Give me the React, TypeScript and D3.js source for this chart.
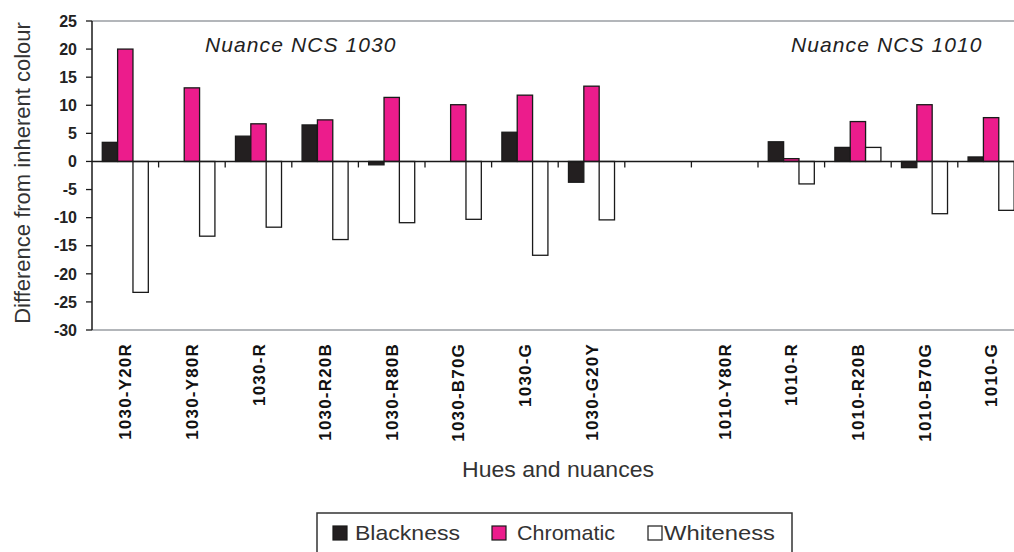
import React from "react";
import * as d3 from "d3";

const categories = [
  "1030-Y20R", "1030-Y80R", "1030-R", "1030-R20B", "1030-R80B", "1030-B70G", "1030-G", "1030-G20Y",
  "", "1010-Y80R", "1010-R", "1010-R20B", "1010-B70G", "1010-G",
];
const seriesNames = ["Blackness", "Chromatic", "Whiteness"];
const blackness = [3.4, 0, 4.5, 6.5, -0.6, 0, 5.2, -3.7, null, 0, 3.5, 2.5, -1.1, 0.8];
const chromatic = [20, 13.1, 6.7, 7.4, 11.4, 10.1, 11.8, 13.4, null, 0, 0.5, 7.1, 10.1, 7.8];
const whiteness = [-23.3, -13.3, -11.7, -13.9, -10.9, -10.3, -16.7, -10.4, null, 0, -4.0, 2.5, -9.3, -8.7];
const yTicks = [25, 20, 15, 10, 5, 0, -5, -10, -15, -20, -25, -30];
const groupTitles = ["Nuance NCS 1030", "Nuance NCS 1010"];

const seriesValues = [blackness, chromatic, whiteness];
const seriesFill = ["#231f20", "#ec1c8c", "#ffffff"];

const FONT = "'Liberation Sans', Arial, sans-serif";

export default function App() {
  const W = 1014, H = 552;
  const left = 92, top = 21, bottom = 330;
  const catW = 66.6;
  const x0 = d3.scaleBand<string>().domain(categories.map((c, i) => c + "#" + i)).range([left, left + catW * categories.length]).paddingInner(0).paddingOuter(0);
  const x1 = d3.scaleBand<string>().domain(seriesNames).range([0, x0.bandwidth()]).paddingInner(0).paddingOuter(0.67);
  const y = d3.scaleLinear().domain([-30, 25]).range([bottom, top]);
  const right = left + catW * categories.length;
  const keys = x0.domain();

  return (
    <svg width={W} height={H} style={{ position: "absolute", left: 0, top: 0, background: "#fff" }} fontFamily={FONT}>
      {/* plot border */}
      <line x1={left} x2={right} y1={y(25)} y2={y(25)} stroke="#9a9ea3" strokeWidth={1.5} />
      <line x1={left} x2={right} y1={y(-30)} y2={y(-30)} stroke="#9a9ea3" strokeWidth={1.5} />

      {/* bars */}
      {seriesValues.map((vals, si) =>
        vals.map((v, ci) => {
          if (v === null || v === 0) return null;
          const bx = (x0(keys[ci]) as number) + (x1(seriesNames[si]) as number);
          const y0 = y(0), yv = y(v);
          return (
            <rect key={si + "-" + ci} x={bx} y={Math.min(y0, yv)} width={x1.bandwidth()} height={Math.abs(yv - y0)}
              fill={seriesFill[si]} stroke="#1a1a1a" strokeWidth={1.3} />
          );
        })
      )}

      {/* y axis */}
      <line x1={left} x2={left} y1={y(25)} y2={y(-30)} stroke="#1a1a1a" strokeWidth={1.5} />
      {yTicks.map((t) => (
        <g key={t}>
          <line x1={left - 6} x2={left} y1={y(t)} y2={y(t)} stroke="#1a1a1a" strokeWidth={1.3} />
          <text x={77} y={y(t)} dy="0.36em" textAnchor="end" fontWeight="bold" fontSize={16} fill="#222">{t}</text>
        </g>
      ))}

      {/* zero axis */}
      <line x1={left} x2={right} y1={y(0)} y2={y(0)} stroke="#1a1a1a" strokeWidth={1.5} />
      {keys.map((k, i) => (
        <line key={k} x1={(x0(k) as number) + catW} x2={(x0(k) as number) + catW} y1={y(0)} y2={y(0) + 6} stroke="#1a1a1a" strokeWidth={1.3} />
      ))}

      {/* category labels */}
      {categories.map((c, i) => {
        const cx = (x0(keys[i]) as number) + x0.bandwidth() / 2;
        return (
          <text key={keys[i]} transform={`translate(${cx},343) rotate(-90)`} textAnchor="end" dy="0.36em"
            fontWeight="bold" fontSize={17} letterSpacing={1.2} fill="#111">{c}</text>
        );
      })}

      {/* group titles */}
      <text x={205} y={52} fontStyle="italic" fontSize={21} letterSpacing={1.1} fill="#222">{groupTitles[0]}</text>
      <text x={791} y={52} fontStyle="italic" fontSize={21} letterSpacing={1.1} fill="#222">{groupTitles[1]}</text>

      {/* axis titles */}
      <text transform={`translate(30,173) rotate(-90)`} textAnchor="middle" fontSize={22} fill="#333">Difference from inherent colour</text>
      <text x={558} y={477} textAnchor="middle" fontSize={22} fill="#333" textLength={192} lengthAdjust="spacingAndGlyphs">Hues and nuances</text>

      {/* legend */}
      <rect x={317} y={513} width={475} height={50} fill="#fff" stroke="#333" strokeWidth={1.5} />
      {[
        { sx: 333, tx: 355, tw: 105 },
        { sx: 492, tx: 517, tw: 98 },
        { sx: 648, tx: 664, tw: 111 },
      ].map((p, i) => (
        <g key={seriesNames[i]}>
          <rect x={p.sx} y={526} width={14} height={14} fill={seriesFill[i]} stroke="#1a1a1a" strokeWidth={1.2} />
          <text x={p.tx} y={540} fontSize={21} fill="#333" textLength={p.tw} lengthAdjust="spacingAndGlyphs">{seriesNames[i]}</text>
        </g>
      ))}
    </svg>
  );
}
